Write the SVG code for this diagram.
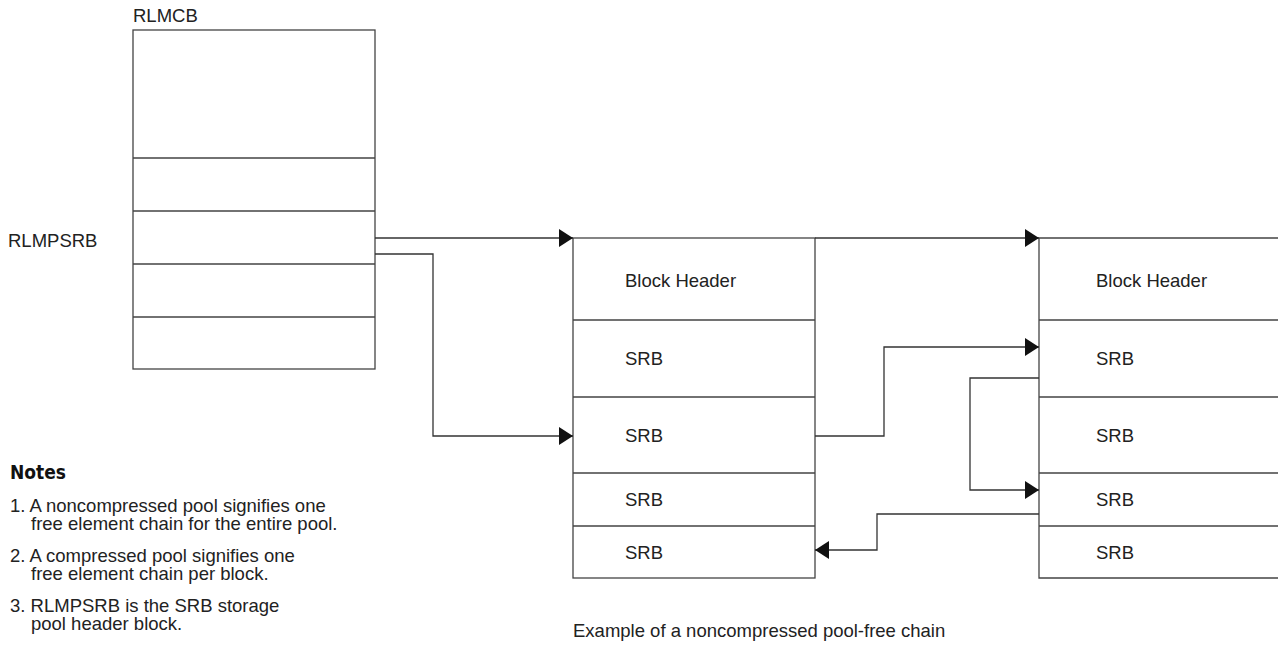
<svg xmlns="http://www.w3.org/2000/svg" width="1278" height="649" viewBox="0 0 1278 649">
<defs>
<style>
text{font-family:"Liberation Sans",Arial,sans-serif;fill:#222;font-size:18.5px}
.box{fill:none;stroke:#444;stroke-width:1.3}
.ln{fill:none;stroke:#333;stroke-width:1.3}
.notes{font-family:"Liberation Sans Narrow","DejaVu Sans Condensed",sans-serif;font-weight:bold;font-stretch:condensed;font-size:19px;fill:#111}
</style>
<marker id="ah" viewBox="0 0 14 18" refX="14" refY="9" markerWidth="14" markerHeight="18" markerUnits="userSpaceOnUse" orient="auto">
<path d="M0,0 L14,9 L0,18 Z" fill="#111"/>
</marker>
</defs>
<rect width="1278" height="649" fill="#fff"/>
<g id="rlmcb">
<text x="133" y="22">RLMCB</text>
<rect class="box" x="133" y="30" width="242" height="339"/>
<path class="box" d="M133,158H375M133,211H375M133,264H375M133,317H375"/>
</g>
<g id="rlmpsrb-label"><text x="8" y="247">RLMPSRB</text></g>
<g id="block1">
<rect class="box" x="573" y="238" width="242" height="340"/>
<path class="box" d="M573,320H815M573,397H815M573,473H815M573,526H815"/>
<text x="625" y="287">Block Header</text>
<text x="625" y="365">SRB</text>
<text x="625" y="442">SRB</text>
<text x="625" y="506">SRB</text>
<text x="625" y="559">SRB</text>
</g>
<g id="block2">
<path class="box" d="M1278,238H1039V578H1278"/>
<path class="box" d="M1039,320H1278M1039,397H1278M1039,473H1278M1039,526H1278"/>
<text x="1096" y="287">Block Header</text>
<text x="1096" y="365">SRB</text>
<text x="1096" y="442">SRB</text>
<text x="1096" y="506">SRB</text>
<text x="1096" y="559">SRB</text>
</g>
<g id="connectors">
<path class="ln" d="M375,238H573" marker-end="url(#ah)"/>
<path class="ln" d="M375,254H433V436H573" marker-end="url(#ah)"/>
<path class="ln" d="M815,238H1039" marker-end="url(#ah)"/>
<path class="ln" d="M815,436H884V347H1039" marker-end="url(#ah)"/>
<path class="ln" d="M1039,378H970V490H1039" marker-end="url(#ah)"/>
<path class="ln" d="M1039,514H877V550H815" marker-end="url(#ah)"/>
</g>
<g id="notes">
<text class="notes" x="10" y="479">Notes</text>
<text x="10" y="512">1. A noncompressed pool signifies one</text>
<text x="31" y="530">free element chain for the entire pool.</text>
<text x="10" y="562">2. A compressed pool signifies one</text>
<text x="31" y="580">free element chain per block.</text>
<text x="10" y="612">3. RLMPSRB is the SRB storage</text>
<text x="31" y="630">pool header block.</text>
</g>
<g id="caption"><text x="573" y="637">Example of a noncompressed pool-free chain</text></g>
</svg>
